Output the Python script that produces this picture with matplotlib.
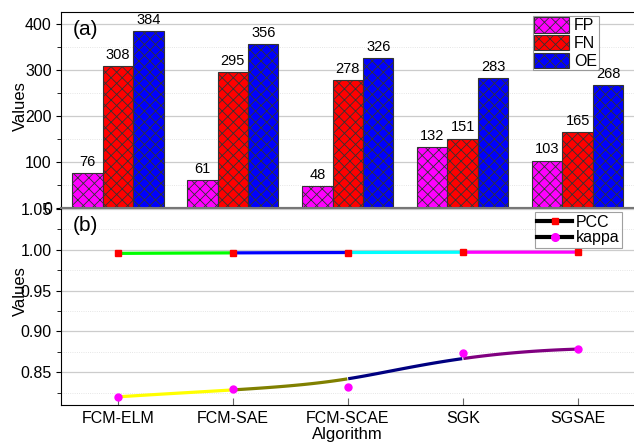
import numpy as np
import matplotlib
matplotlib.use("Agg")
from matplotlib import pyplot as plt
from matplotlib.lines import Line2D
from matplotlib.ticker import MultipleLocator

plt.rcParams['font.family'] = ['Liberation Sans', 'DejaVu Sans']
plt.rcParams['hatch.linewidth'] = 0.6

algorithms = ['FCM-ELM', 'FCM-SAE', 'FCM-SCAE', 'SGK', 'SGSAE']
fp = [76, 61, 48, 132, 103]
fn = [308, 295, 278, 151, 165]
oe = [384, 356, 326, 283, 268]
pcc = [0.9955, 0.9962, 0.9965, 0.9970, 0.9970]
kappa = [0.8200, 0.8290, 0.8326, 0.8740, 0.8784]

pcc_colors = ['#00ff00', '#0000ff', '#00ffff', '#ff00ff']
kappa_colors = ['#ffff00', '#808000', '#000080', '#800080']


def bspline(px, py, n=400, k=3):
    # clamped B-spline using the data points as control points
    px = np.asarray(px, float)
    py = np.asarray(py, float)
    m = len(px)
    inner = np.linspace(0, 1, m - k + 1)[1:-1]
    t = np.concatenate([np.zeros(k + 1), inner, np.ones(k + 1)])
    u = np.linspace(0, 1, n)
    u[-1] -= 1e-12

    def basis(i, d, uu):
        if d == 0:
            return ((t[i] <= uu) & (uu < t[i + 1])).astype(float)
        a = 0.0
        b = 0.0
        if t[i + d] != t[i]:
            a = (uu - t[i]) / (t[i + d] - t[i]) * basis(i, d - 1, uu)
        if t[i + d + 1] != t[i + 1]:
            b = (t[i + d + 1] - uu) / (t[i + d + 1] - t[i + 1]) * basis(i + 1, d - 1, uu)
        return a + b

    N = np.array([basis(i, k, u) for i in range(m)])
    return N.T @ px, N.T @ py


fig = plt.figure(figsize=(6.34, 4.44), dpi=100)
ax1 = fig.add_axes([0.097, 0.5315, 0.903, 0.4415])
ax2 = fig.add_axes([0.097, 0.0878, 0.903, 0.4437])

x = np.arange(len(algorithms))
w = 0.265

# (a) bars
series = [('FP', fp, '#ff00ff'), ('FN', fn, '#ff0000'), ('OE', oe, '#0000ff')]
for i, (name, vals, col) in enumerate(series):
    bars = ax1.bar(x + (i - 1) * w, vals, w, color=col, edgecolor='#333333',
                   hatch='xxx', linewidth=0.8, label=name, zorder=3)
    for b, v in zip(bars, vals):
        ax1.annotate(str(v), (b.get_x() + b.get_width() / 2, v), xytext=(0, 3),
                     textcoords='offset points', ha='center', va='bottom', fontsize=10.5)

ax1.set_xlim(-0.49, 4.49)
ax1.set_ylim(0, 426)
ax1.yaxis.set_major_locator(MultipleLocator(100))
ax1.yaxis.set_minor_locator(MultipleLocator(50))
ax1.set_xticks([])
ax1.grid(axis='y', which='major', color='#cccccc', lw=0.9, zorder=0)
ax1.grid(axis='y', which='minor', color='#dddddd', lw=0.6, ls=':', zorder=0)
ax1.tick_params(axis='y', which='both', direction='out', labelsize=11.5)
ax1.tick_params(axis='y', which='minor', length=3)
ax1.spines['bottom'].set_color('#777777')
ax1.spines['bottom'].set_linewidth(1.5)
ax1.spines['right'].set_visible(False)
ax1.set_ylabel('Values', fontsize=12)
ax1.yaxis.set_label_coords(-0.058, 0.52)
ax1.text(0.02, 0.96, '(a)', transform=ax1.transAxes, fontsize=15, va='top')
leg1 = ax1.legend(loc='upper right', bbox_to_anchor=(0.944, 0.997), fontsize=11.5,
                  fancybox=False, edgecolor='#888888', handlelength=2.2,
                  handleheight=1.1, borderpad=0.1, labelspacing=0.1,
                  handletextpad=0.3, borderaxespad=0.2)
leg1.get_frame().set_linewidth(0.8)

# (b) lines
cx, cy = bspline(x, pcc)
for i in range(len(x) - 1):
    sel = (cx >= x[i] - 1e-9) & (cx <= x[i + 1] + 0.003)
    ax2.plot(cx[sel], cy[sel], color=pcc_colors[i], lw=2.3, zorder=3,
             solid_capstyle='butt')

cx, cy = bspline(x, kappa)
for i in range(len(x) - 1):
    sel = (cx >= x[i] - 1e-9) & (cx <= x[i + 1] + 0.003)
    ax2.plot(cx[sel], cy[sel], color=kappa_colors[i], lw=2.3, zorder=3,
             solid_capstyle='butt')

ax2.plot(x, pcc, ls='none', marker='s', ms=4.5, color='#ff0000', zorder=4)
ax2.plot(x, kappa, ls='none', marker='o', ms=5, color='#ff00ff', zorder=4)

ax2.set_xlim(-0.49, 4.49)
ax2.set_ylim(0.81, 1.051)
ax2.set_yticks([0.85, 0.90, 0.95, 1.00, 1.05])
ax2.yaxis.set_minor_locator(MultipleLocator(0.025))
ax2.set_xticks(x)
ax2.set_xticklabels(algorithms)
ax2.grid(axis='y', which='major', color='#cccccc', lw=0.9, zorder=0)
ax2.grid(axis='y', which='minor', color='#dddddd', lw=0.6, ls=':', zorder=0)
ax2.tick_params(axis='y', which='both', direction='out', labelsize=11.5)
ax2.tick_params(axis='y', which='minor', length=3)
ax2.tick_params(axis='x', direction='in', labelsize=11.5, color='#666666', length=5, pad=4)
ax2.spines['top'].set_color('#777777')
ax2.spines['top'].set_linewidth(1.5)
ax2.spines['right'].set_visible(False)
ax2.set_ylabel('Values', fontsize=12)
ax2.yaxis.set_label_coords(-0.058, 0.576)
ax2.set_xlabel('Algorithm', fontsize=12, labelpad=1)
ax2.text(0.02, 0.96, '(b)', transform=ax2.transAxes, fontsize=15, va='top')
handles = [Line2D([], [], color='black', lw=3, marker='s', ms=5, mfc='#ff0000', mec='#ff0000'),
           Line2D([], [], color='black', lw=3, marker='o', ms=5.5, mfc='#ff00ff', mec='#ff00ff')]
leg2 = ax2.legend(handles, ['PCC', 'kappa'], loc='upper right', bbox_to_anchor=(0.984, 0.995),
                  fontsize=11.5, fancybox=False, edgecolor='#888888', handlelength=2.2,
                  borderpad=0.15, labelspacing=0.05, handletextpad=0.2, borderaxespad=0.2)
leg2.get_frame().set_linewidth(0.8)

fig.savefig('out.png', dpi=100)
